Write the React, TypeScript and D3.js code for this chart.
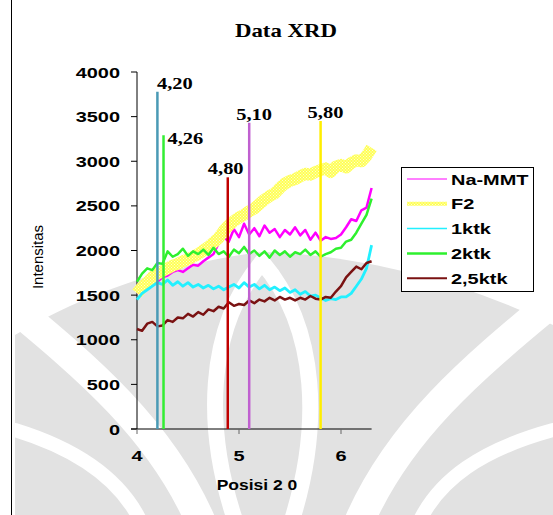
import React from 'react';
import * as d3 from 'd3';

// posisi 2 theta (x) shared by every series
const posisi = [4.00, 4.05, 4.10, 4.15, 4.20, 4.25, 4.30, 4.35, 4.40, 4.45, 4.50, 4.55, 4.60, 4.65, 4.70, 4.75,
  4.80, 4.85, 4.90, 4.95, 5.00, 5.05, 5.10, 5.15, 5.20, 5.25, 5.30, 5.35, 5.40, 5.45, 5.50, 5.55,
  5.60, 5.65, 5.70, 5.75, 5.80, 5.85, 5.90, 5.95, 6.00, 6.05, 6.10, 6.15, 6.20, 6.25, 6.30];

const naMMT = [1520, 1560, 1600, 1640, 1650, 1700, 1720, 1760, 1780, 1760, 1800, 1840, 1830, 1880, 1920, 1960,
  2080, 2150, 2100, 2240, 2150, 2300, 2180, 2250, 2160, 2280, 2200, 2240, 2150, 2230, 2180, 2260,
  2170, 2230, 2120, 2200, 2110, 2150, 2130, 2140, 2180, 2260, 2350, 2330, 2450, 2480, 2700];
const f2 = [1520, 1590, 1640, 1700, 1740, 1770, 1800, 1830, 1850, 1880, 1900, 1930, 1960, 2000, 2040, 2090,
  2140, 2220, 2280, 2330, 2370, 2400, 2440, 2470, 2520, 2570, 2610, 2640, 2700, 2750, 2780, 2800,
  2830, 2860, 2850, 2880, 2900, 2920, 2880, 2940, 2960, 2930, 2980, 3010, 3000, 3060, 3150];
const ktk1 = [1450, 1520, 1560, 1600, 1640, 1620, 1670, 1610, 1650, 1600, 1640, 1590, 1620, 1580, 1610, 1570,
  1600, 1560, 1590, 1620, 1580, 1640, 1590, 1620, 1570, 1610, 1560, 1590, 1550, 1580, 1530, 1560,
  1510, 1540, 1490, 1500, 1470, 1440, 1460, 1450, 1480, 1480, 1520, 1600, 1680, 1800, 2060];
const ktk2 = [1650, 1740, 1800, 1780, 1860, 1850, 1990, 1930, 1960, 2020, 1940, 1990, 1960, 2010, 1950, 2030,
  1960, 1990, 1930, 2010, 1970, 2040, 1960, 2000, 1940, 1990, 1920, 2000, 1950, 1990, 1930, 1980,
  1960, 2010, 1950, 1990, 1930, 1960, 1980, 2020, 2030, 2100, 2120, 2200, 2300, 2400, 2580];
const ktk25 = [1120, 1100, 1180, 1200, 1150, 1160, 1220, 1200, 1250, 1240, 1290, 1260, 1310, 1280, 1340, 1320,
  1370, 1350, 1420, 1380, 1400, 1390, 1440, 1410, 1450, 1430, 1470, 1440, 1480, 1450, 1470, 1440,
  1470, 1450, 1490, 1460, 1450, 1480, 1470, 1540, 1600, 1700, 1760, 1820, 1790, 1860, 1880];

const seriesNames = ['Na-MMT', 'F2', '1ktk', '2ktk', '2,5ktk'];
const seriesValues = [naMMT, f2, ktk1, ktk2, ktk25];
const seriesColors = ['#ff00ff', 'url(#hatch)', '#22f0ff', '#2ef02e', '#7a1212'];
const seriesWidths = [2.5, 12, 2.8, 2.5, 2.5];
const legendWidths = [1, 4, 1.5, 2.5, 2];

// peak markers
const peakPos = [4.20, 4.26, 4.89, 5.10, 5.80];
const peakLabels = ['4,20', '4,26', '4,80', '5,10', '5,80'];
const peakHeights = [3780, 3290, 2820, 3430, 3450];
const peakColors = ['#4a9ab5', '#33ee33', '#c00000', '#c060d0', '#ffee00'];

const yTicks = [0, 500, 1000, 1500, 2000, 2500, 3000, 3500, 4000];
const xTicks = [4, 5, 6];

const sans = '"Liberation Sans", Arial, sans-serif';
const serif = '"Liberation Serif", "Times New Roman", serif';

function Stretch({ x, y, sx, anchor, size, family, weight, children }: any) {
  return (
    <text transform={`translate(${x},${y}) scale(${sx},1)`} textAnchor={anchor || 'start'}
      fontSize={size} fontFamily={family} fontWeight={weight || 'bold'} fill="#000">
      {children}
    </text>
  );
}

export default function App() {
  const W = 553, H = 515;
  const x = d3.scaleLinear().domain([4, 6]).range([137, 341]);
  const y = d3.scaleLinear().domain([0, 4000]).range([429, 72]);
  const xEnd = x(6.3);

  const line = d3.line<number>()
    .x((_, i) => x(posisi[i]))
    .y(d => y(d))
    .curve(d3.curveLinear);

  return (
    <svg width={W} height={H} style={{ position: 'absolute', left: 0, top: 0, background: '#fff' }}>
      <defs>
        <pattern id="hatch" width="3" height="3" patternUnits="userSpaceOnUse">
          <rect width="3" height="3" fill="#ffff55" />
          <rect width="1" height="1" fill="#ffffd0" />
          <rect x="1.5" y="1.5" width="1" height="1" fill="#fffff0" />
        </pattern>
      </defs>

      {/* watermark */}
      <g>
        <path d="M15,515 L15,335 C90,290 180,262 262,252 C360,255 460,280 553,325 L553,515 Z" fill="#e2e2e2" />
        <g fill="none" stroke="#fff" strokeLinecap="round">
          <path d="M5,300 C90,370 160,430 200,520" strokeWidth={30} />
          <path d="M555,300 C470,370 400,430 360,520" strokeWidth={30} />
          <path d="M262,262 C205,330 205,430 235,520" strokeWidth={16} />
          <path d="M262,262 C320,330 320,430 292,520" strokeWidth={16} />
          <path d="M15,430 C80,450 120,480 140,520" strokeWidth={14} />
          <path d="M553,430 C480,450 440,480 420,520" strokeWidth={14} />
        </g>
      </g>
      <line x1={11.5} x2={11.5} y1={0} y2={H} stroke="#000" strokeWidth={1} />

      <Stretch x={286} y={37} sx={1.27} anchor="middle" size={18} family={serif}>Data XRD</Stretch>

      {/* axes */}
      <line x1={137} x2={137} y1={y(4000)} y2={y(0)} stroke="#000" />
      {yTicks.map(t => (
        <g key={t}>
          <line x1={131} x2={137} y1={y(t)} y2={y(t)} stroke="#000" />
          <Stretch x={120} y={y(t) + 5.5} sx={1.33} anchor="end" size={15} family={sans}>{t}</Stretch>
        </g>
      ))}
      <line x1={131} x2={xEnd} y1={y(0)} y2={y(0)} stroke="#000" />
      {xTicks.map(t => (
        <g key={t}>
          <line x1={x(t)} x2={x(t)} y1={y(0)} y2={y(0) + 5} stroke="#666" />
          <Stretch x={x(t)} y={461} sx={1.33} anchor="middle" size={15} family={sans}>{t}</Stretch>
        </g>
      ))}
      <Stretch x={257} y={490} sx={1.25} anchor="middle" size={14} family={sans}>Posisi 2 0</Stretch>
      <text transform="translate(43,257) rotate(-90)" textAnchor="middle" fontSize={15}
        fontFamily={sans} fill="#000">Intensitas</text>

      {/* series */}
      {seriesValues.map((vals, i) => (
        <path key={seriesNames[i]} d={line(vals) || ''} fill="none" stroke={seriesColors[i]}
          strokeWidth={seriesWidths[i]} strokeLinejoin="round" />
      ))}

      {/* peaks */}
      {peakPos.map((p, i) => (
        <line key={p} x1={x(p)} x2={x(p)} y1={y(peakHeights[i])} y2={y(0)}
          stroke={peakColors[i]} strokeWidth={2.5} />
      ))}
      {peakPos.map((p, i) => {
        const lx = i === 1 ? x(p) + 4 : i === 2 ? x(p) - 20 : i >= 3 ? x(p) - 13 : x(p) - 0.5;
        const ly = i === 1 ? y(peakHeights[i]) + 9 : y(peakHeights[i]) - 3;
        return (
          <Stretch key={peakLabels[i]} x={lx} y={ly} sx={1.28} size={16} family={serif}>{peakLabels[i]}</Stretch>
        );
      })}

      {/* legend */}
      <rect x={401.5} y={167.5} width={132} height={124} fill="#fff" stroke="#000" />
      {seriesNames.map((n, i) => {
        const ry = 179 + i * 24.8;
        return (
          <g key={n}>
            <line x1={407} x2={447} y1={ry} y2={ry}
              stroke={i === 1 ? 'url(#hatch)' : seriesColors[i]} strokeWidth={legendWidths[i]} />
            <Stretch x={451} y={ry + 5.5} sx={1.33} size={15} family={sans}>{n}</Stretch>
          </g>
        );
      })}
    </svg>
  );
}
